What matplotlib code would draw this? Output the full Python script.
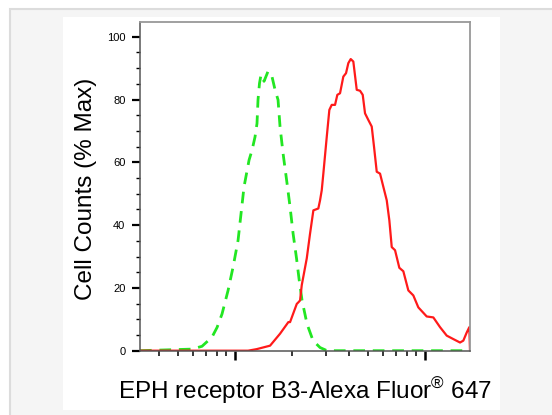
import matplotlib
matplotlib.use("Agg")
import matplotlib.pyplot as plt
from matplotlib.patches import Rectangle
from matplotlib.ticker import LogLocator, MultipleLocator, NullFormatter

plt.rcParams['font.family'] = ['Liberation Sans', 'DejaVu Sans']
plt.rcParams['mathtext.fontset'] = 'custom'
plt.rcParams['mathtext.rm'] = 'Liberation Sans'

# 数据: 荧光强度 (对数坐标) 与 细胞计数 (% Max)
ctrl_x = [31.6, 59.4, 67.0, 75.6, 80.4, 85.4, 91.9, 97.6, 103.7, 111.5, 118.5,
          122.9, 127.4, 130.5, 132.1, 134.5, 137.0, 142.1, 149.2, 156.5, 162.4,
          168.4, 172.5, 178.9, 187.8, 194.8, 202.0, 210.8, 217.3, 225.3, 239.3,
          257.4, 280.2, 305.0, 1725.0]
ctrl_y = [0, 0.5, 1.4, 4.3, 7.4, 11.7, 19.2, 26.6, 35.1, 52.2, 60.7,
          63.9, 68.1, 72.4, 79.9, 85.2, 87.9, 85.8, 89.0, 87.3, 83.1,
          79.9, 71.4, 62.9, 53.3, 45.8, 37.4, 29.3, 22.8, 16.0, 8.5,
          3.2, 1.0, 0, 0]

ephb3_x = [31.6, 117.1, 130.1, 152.9, 172.5, 190.8, 194.8, 211.3, 215.4, 219.9,
           224.5, 238.5, 248.1, 258.4, 274.4, 280.2, 286.0, 291.6, 303.9, 313.6,
           322.8, 336.0, 345.5, 357.0, 371.5, 383.9, 394.8, 406.4, 419.4, 437.1,
           454.9, 470.0, 483.3, 503.0, 524.2, 539.1, 557.0, 579.8, 603.4, 628.8,
           649.0, 668.1, 695.4, 732.5, 768.9, 817.0, 867.9, 922.0, 1020.7, 1106.0,
           1199.4, 1300.9, 1409.1, 1528.5, 1590.8, 1658.0, 1711.0, 1725.0]
ephb3_y = [0, 0, 0.5, 1.6, 5.4, 9.1, 9.1, 14.9, 15.4, 16.0,
           20.9, 29.4, 37.2, 44.7, 45.3, 47.9, 51.1, 56.4, 68.1, 76.7,
           78.3, 78.3, 81.5, 82.0, 87.3, 88.4, 91.6, 92.9, 92.1, 83.1,
           82.8, 81.5, 75.6, 73.5, 71.4, 64.9, 57.0, 56.4, 52.2, 47.9,
           41.5, 33.0, 32.0, 26.4, 25.3, 19.2, 17.6, 13.8, 10.9, 10.6,
           7.5, 4.8, 3.7, 2.6, 3.2, 5.8, 7.5, 0]

y_ticks = [0, 20, 40, 60, 80, 100]

fig = plt.figure(figsize=(5.52, 4.15), dpi=100, facecolor='white')

# 背景: 灰色外框和白色面板
fig.patches.append(Rectangle((9.5 / 552, -0.1), 1.2, (415 - 9.5) / 415 + 0.1,
                             transform=fig.transFigure, facecolor='#f5f5f5',
                             edgecolor='#dcdcdc', linewidth=1.5, zorder=-3))
fig.patches.append(Rectangle((63 / 552, 5 / 415), 437 / 552, 393 / 415,
                             transform=fig.transFigure, facecolor='white',
                             edgecolor='none', zorder=-2))

ax = fig.add_axes([140 / 552, 64 / 415, 330 / 552, 329 / 415])
ax.set_facecolor('white')

ax.plot(ctrl_x, ctrl_y, color='#22e622', linewidth=2.0, dashes=(4.2, 2.8))
ax.plot(ephb3_x, ephb3_y, color='#ff1a1a', linewidth=1.6)

ax.set_xscale('log')
ax.set_xlim(31.6, 1725)
ax.set_ylim(-0.1, 104.7)

ax.xaxis.set_major_locator(LogLocator(base=10))
ax.xaxis.set_minor_locator(LogLocator(base=10, subs=range(2, 10)))
ax.xaxis.set_major_formatter(NullFormatter())
ax.xaxis.set_minor_formatter(NullFormatter())
ax.set_yticks(y_ticks)
ax.yaxis.set_minor_locator(MultipleLocator(5))

ax.tick_params(axis='y', which='major', length=6, width=1.6, labelsize=8, pad=4.5)
ax.tick_params(axis='y', which='minor', length=3, width=1)
ax.tick_params(axis='x', which='major', length=6.5, width=1.8)
ax.tick_params(axis='x', which='minor', length=3.5, width=1.1)

for s in ['left', 'bottom']:
    ax.spines[s].set_color('#555555')
    ax.spines[s].set_linewidth(1.1)
for s in ['top', 'right']:
    ax.spines[s].set_color('#999999')
    ax.spines[s].set_linewidth(1.3)

ax.set_ylabel('Cell Counts (% Max)', fontsize=17.5)
ax.yaxis.set_label_coords(-0.13, 0.494)
ax.set_xlabel('EPH receptor B3-Alexa Fluor$^{\\mathrm{®}}$ 647', fontsize=17.5)
ax.xaxis.set_label_coords(0.5, -0.075)

plt.savefig('out.png', dpi=100)
